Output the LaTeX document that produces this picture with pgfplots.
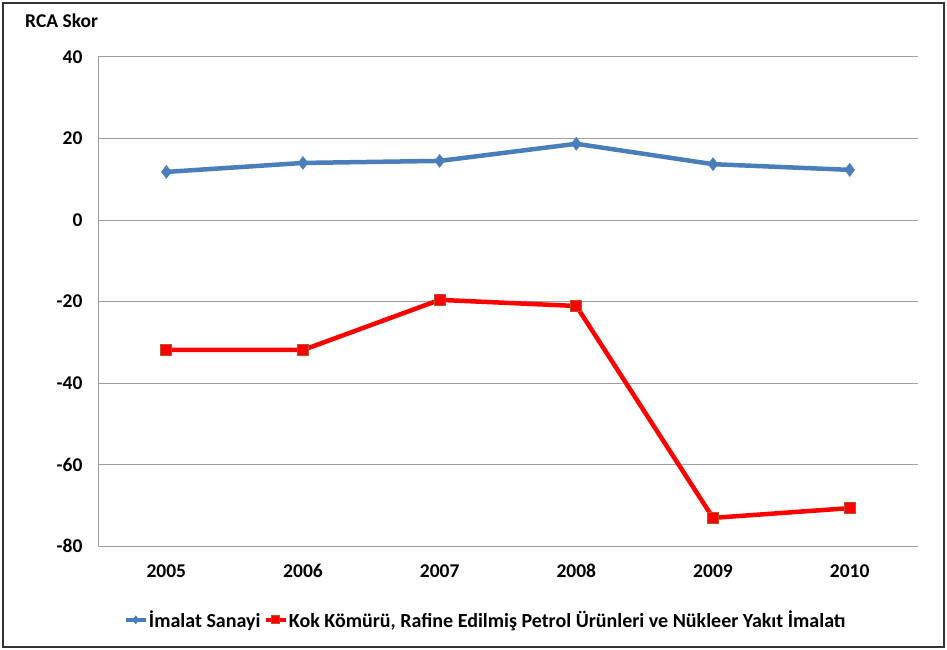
\documentclass[border=0pt]{standalone}
\usepackage{pgfplots}
\pgfplotsset{compat=1.18}
\usepackage{fontspec}
\setmainfont{Carlito}
\definecolor{bl}{RGB}{74,126,187}
\definecolor{rd}{RGB}{255,0,0}
\definecolor{rdedge}{RGB}{190,80,40}
\definecolor{gr}{RGB}{160,160,160}
\begin{document}
\begin{tikzpicture}
\path[use as bounding box] (0pt,0pt) rectangle (947pt,-650pt);
\draw[black!80,line width=1.5pt] (3pt,-3pt) rectangle (944pt,-647pt);
\node[font=\fontsize{19.5}{22}\selectfont\bfseries,anchor=west,inner sep=0pt] at (25pt,-21pt) {RCA Skor};
\begin{axis}[
  at={(98pt,-546pt)}, anchor=south west,
  scale only axis, width=820pt, height=489pt,
  xmin=-0.5, xmax=5.5, ymin=-80, ymax=40,
  xtick={0,...,5}, xticklabels={2005,2006,2007,2008,2009,2010},
  ytick={-80,-60,...,40},
  axis lines=left, axis line style={gr,line width=1pt,-},
  ymajorgrids, grid style={gr,line width=1pt},
  major tick length=0pt,
  tick label style={font=\fontsize{19.5}{22}\selectfont\bfseries},
  /pgf/number format/assume math mode=true,
  yticklabel style={xshift=-12pt},
  xticklabel style={yshift=-15pt,text height=13pt,text depth=0pt},
  clip=false,
  legend style={at={(0.472,-0.151)},anchor=center,draw=none,fill=none,
    legend columns=2, font=\fontsize{20}{22}\selectfont\bfseries,
    nodes={inner sep=1pt},
    /tikz/every even column/.append style={column sep=2pt}},
  legend image code/.code={
    \draw[#1,mark=none] (0pt,0pt) -- (20pt,0pt);
    \draw[#1,only marks,mark size=4pt] plot coordinates {(10pt,0pt)};
  },
]
\addplot[bl,line width=4.5pt,mark=diamond*,mark size=6.5pt,mark options={fill=bl,draw=bl,line width=0.5pt}]
  coordinates {(0,11.8) (1,14.0) (2,14.5) (3,18.7) (4,13.7) (5,12.3)};
\addlegendentry{İmalat Sanayi}
\addplot[rd,line width=4.5pt,mark=square*,mark size=5.5pt,mark options={fill=rd,draw=rdedge,line width=1pt}]
  coordinates {(0,-31.9) (1,-31.9) (2,-19.6) (3,-21.1) (4,-73.1) (5,-70.7)};
\addlegendentry{Kok Kömürü, Rafine Edilmiş Petrol Ürünleri ve Nükleer Yakıt İmalatı}
\end{axis}
\end{tikzpicture}
\end{document}
